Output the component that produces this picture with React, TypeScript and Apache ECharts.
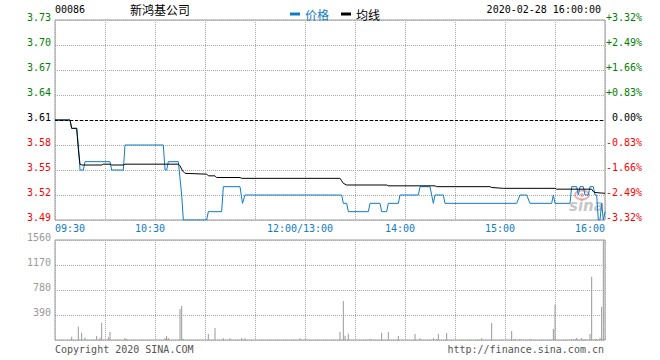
import React, { useEffect, useRef } from 'react';
import * as echarts from 'echarts';

const stockCode = '00086';
const stockName = '新鸿基公司';
const timestamp = '2020-02-28 16:00:00';
const copyrightText = 'Copyright 2020 SINA.COM';
const siteText = 'http://finance.sina.com.cn';
const prevClose = 3.61;
const priceMin = 3.49;
const priceMax = 3.73;
const priceStep = 0.03;
const volMax = 1560;
const volStep = 390;
const totalMinutes = 330;
const xLabelMinutes = [0, 60, 150, 210, 270, 330];
const xLabelTexts = ['09:30', '10:30', '12:00/13:00', '14:00', '15:00', '16:00'];

// [minute since 09:30 (lunch removed), price]
const priceData = [
  [0, 3.61], [9, 3.61], [10, 3.6], [13, 3.6], [14, 3.58], [15, 3.55], [17, 3.55], [18, 3.56],
  [33, 3.56], [34, 3.55], [41, 3.55], [42, 3.58], [65, 3.58], [66, 3.55], [67, 3.55], [68, 3.56],
  [74, 3.56], [75, 3.54], [76, 3.52], [77, 3.49], [91, 3.49], [92, 3.5], [100, 3.5], [101, 3.53],
  [111, 3.53], [112.5, 3.51], [114, 3.52], [172, 3.52], [173, 3.51], [175, 3.51], [176, 3.5],
  [188, 3.5], [189, 3.51], [195, 3.51], [196, 3.5], [199, 3.5], [200, 3.51], [206, 3.51], [207, 3.52],
  [218, 3.52], [219, 3.53], [225, 3.53], [226, 3.52], [227, 3.51], [228, 3.52], [233, 3.52], [234, 3.51],
  [277, 3.51], [279, 3.52], [283, 3.52], [285, 3.51], [298, 3.51], [299, 3.52], [300, 3.51], [309, 3.51],
  [310, 3.53], [313, 3.53], [314, 3.52], [315, 3.53], [317, 3.53], [318, 3.52], [320, 3.52], [321, 3.53],
  [323, 3.53], [324, 3.52], [325, 3.52], [326, 3.49], [327, 3.49], [328, 3.51], [329, 3.49], [330, 3.5],
];

const avgData = [
  [0, 3.61], [9, 3.61], [10, 3.6], [13, 3.6], [14, 3.575], [15, 3.557], [16, 3.556], [28, 3.556],
  [29, 3.557], [33, 3.557], [34, 3.556], [41, 3.556], [42, 3.557], [74, 3.557], [75, 3.555], [76, 3.551],
  [77, 3.548], [78, 3.546], [91, 3.545], [92, 3.543], [96, 3.543], [97, 3.541], [111, 3.541], [112, 3.54],
  [171, 3.54], [172, 3.537], [173, 3.534], [175, 3.532], [199, 3.532], [200, 3.531], [228, 3.531],
  [229, 3.53], [261, 3.53], [262, 3.529], [269, 3.528], [300, 3.528], [301, 3.527], [322, 3.527],
  [323, 3.524], [324, 3.523], [330, 3.522],
];

const volMinutes = [
  10, 14, 16, 18, 25, 27, 28, 32, 33, 42, 43, 66, 67, 68, 75, 76, 77, 92, 96, 101, 105, 112, 114, 147, 150,
  171, 173, 174, 176, 189, 196, 200, 206, 216, 219, 227, 229, 230, 235, 256, 262, 274, 276, 279, 285,
  299, 300, 310, 312, 313, 316, 318, 321, 322, 324, 325, 327, 328, 329, 330,
];
const volValues = [
  52, 208, 114, 36, 62, 36, 270, 42, 130, 30, 15, 30, 62, 30, 484, 530, 15, 94, 187, 26, 26, 26, 26, 26, 15,
  130, 608, 67, 99, 15, 114, 125, 62, 94, 26, 26, 15, 94, 109, 26, 265, 140, 15, 15, 15,
  172, 546, 16, 16, 31, 31, 16, 94, 988, 16, 16, 31, 520, 1550, 16,
];

const MONO = '"DejaVu Sans Mono", "Liberation Mono", monospace';
const CJK = '"Noto Sans CJK SC", sans-serif';
const BLUE = '#0f7cc8';
const GRID = '#aaaaaa';
const BORDER = '#999999';

function priceColor(v: any) {
  const n = Number(v);
  if (Math.abs(n - prevClose) < 1e-6) return '#000000';
  return n > prevClose ? '#008000' : '#ff0000';
}

export default function App() {
  const ref = useRef<HTMLDivElement>(null);
  useEffect(() => {
    if (!ref.current) return;
    const chart = echarts.init(ref.current, null, { renderer: 'svg' });
    const splitLine = { show: true, lineStyle: { color: GRID, type: [1, 1], width: 1 } };
    const option: any = {
      animation: false,
      legend: {
        left: 285,
        top: 3,
        itemWidth: 10,
        itemHeight: 3,
        itemGap: 12,
        icon: 'rect',
        textStyle: { fontSize: 12, fontFamily: CJK },
        data: [
          { name: '价格', textStyle: { color: BLUE } },
          { name: '均线', textStyle: { color: '#000' } },
        ],
      },
      grid: [
        { left: 55, top: 20, width: 550, height: 200, show: true, borderColor: BORDER, borderWidth: 1 },
        { left: 55, top: 240, width: 550, height: 100, show: true, borderColor: BORDER, borderWidth: 1 },
      ],
      xAxis: [
        {
          type: 'value', gridIndex: 0, min: 0, max: totalMinutes, interval: 30,
          axisLine: { show: false }, axisTick: { show: false }, splitLine,
          axisLabel: {
            margin: 3, color: BLUE, fontFamily: MONO, fontSize: 10, lineHeight: 10,
            formatter: (v: number) => {
              const i = xLabelMinutes.indexOf(v);
              if (i < 0) return '';
              if (i === 0) return '{s|' + xLabelTexts[i] + '}';
              if (i === xLabelMinutes.length - 1) return '{e|' + xLabelTexts[i] + '}';
              return '{m|' + xLabelTexts[i] + '}';
            },
            rich: {
              s: { color: BLUE, fontFamily: MONO, fontSize: 10, lineHeight: 10, padding: [0, 0, 0, 30] },
              e: { color: BLUE, fontFamily: MONO, fontSize: 10, lineHeight: 10, padding: [0, 30, 0, 0] },
              m: { color: BLUE, fontFamily: MONO, fontSize: 10, lineHeight: 10, padding: [0, 10, 0, 0] },
            },
          },
        },
        {
          type: 'value', gridIndex: 1, min: 0, max: totalMinutes, interval: 30,
          axisLine: { show: false }, axisTick: { show: false }, axisLabel: { show: false }, splitLine,
        },
      ],
      yAxis: [
        {
          type: 'value', gridIndex: 0, min: priceMin, max: priceMax, interval: priceStep,
          axisLine: { show: false }, axisTick: { show: false }, splitLine,
          axisLabel: {
            margin: 4, fontFamily: MONO, fontSize: 10, lineHeight: 6, verticalAlign: 'bottom',
            color: priceColor, formatter: (v: number) => v.toFixed(2),
          },
        },
        {
          type: 'value', gridIndex: 0, position: 'right', min: priceMin, max: priceMax, interval: priceStep,
          axisLine: { show: false }, axisTick: { show: false }, splitLine: { show: false },
          axisLabel: {
            margin: 37, align: 'right', fontFamily: MONO, fontSize: 10, lineHeight: 6, verticalAlign: 'bottom',
            color: priceColor,
            formatter: (v: number) => {
              const p = ((v - prevClose) / prevClose) * 100;
              if (Math.abs(p) < 0.005) return '0.00%';
              return (p > 0 ? '+' : '') + p.toFixed(2) + '%';
            },
          },
        },
        {
          type: 'value', gridIndex: 1, min: 0, max: volMax, interval: volStep,
          axisLine: { show: false }, axisTick: { show: false }, splitLine,
          axisLabel: {
            margin: 4, fontFamily: MONO, fontSize: 10, lineHeight: 6, verticalAlign: 'bottom',
            color: '#999999', formatter: (v: number) => (v === 0 ? '' : String(v)),
          },
        },
      ],
      series: [
        {
          type: 'line', name: '价格', xAxisIndex: 0, yAxisIndex: 0, data: priceData,
          symbol: 'none', showSymbol: false, z: 2,
          lineStyle: { color: BLUE, width: 1 }, itemStyle: { color: BLUE },
          markLine: {
            silent: true, symbol: ['none', 'none'], label: { show: false },
            lineStyle: { color: '#000', type: [3, 2], width: 1 },
            data: [{ yAxis: prevClose }],
          },
        },
        {
          type: 'line', name: '均线', xAxisIndex: 0, yAxisIndex: 0, data: avgData,
          symbol: 'none', showSymbol: false, z: 3,
          lineStyle: { color: '#000', width: 1 }, itemStyle: { color: '#000' },
        },
        {
          type: 'bar', name: '成交量', xAxisIndex: 1, yAxisIndex: 2,
          data: volMinutes.map((m, i) => [m, volValues[i]]),
          barWidth: 1, itemStyle: { color: '#999999' },
        },
      ],
      graphic: [
        { type: 'text', x: 55, y: 9, style: { text: stockCode, font: '10px ' + MONO, fill: '#000', verticalAlign: 'middle' } },
        { type: 'text', x: 130, y: 9.5, style: { text: stockName, font: '12px ' + CJK, fill: '#000', verticalAlign: 'middle' } },
        { type: 'text', x: 601, y: 9.5, style: { text: timestamp, font: '10px ' + MONO, fill: '#000', align: 'right', verticalAlign: 'middle' } },
        { type: 'text', x: 55, y: 349.5, style: { text: copyrightText, font: '10px ' + MONO, fill: '#555', verticalAlign: 'middle' } },
        { type: 'text', x: 604, y: 349.5, style: { text: siteText, font: '10px ' + MONO, fill: '#555', align: 'right', verticalAlign: 'middle' } },
        { type: 'ellipse', shape: { cx: 582, cy: 195, rx: 7, ry: 4.5 }, style: { fill: 'none', stroke: 'rgba(230,110,110,0.55)', lineWidth: 2 }, z: 1 },
        { type: 'circle', shape: { cx: 582, cy: 195, r: 2 }, style: { fill: 'rgba(230,110,110,0.55)' }, z: 1 },
        { type: 'text', x: 569, y: 198, style: { text: 'sina', font: 'italic bold 15px "DejaVu Sans", sans-serif', fill: 'rgba(150,150,150,0.55)' }, z: 1 },
      ],
    };
    chart.setOption(option);
    return () => chart.dispose();
  }, []);
  return <div ref={ref} style={{ position: 'absolute', left: 0, top: 0, width: 660, height: 360 }} />;
}
